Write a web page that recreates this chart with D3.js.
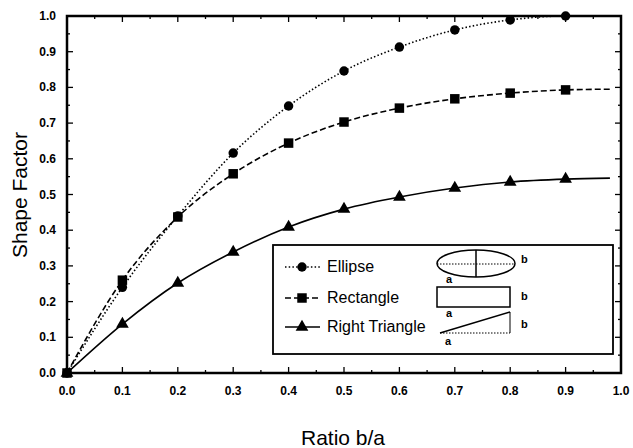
<!DOCTYPE html>
<html>
<head>
<meta charset="utf-8">
<script src="https://cdn.jsdelivr.net/npm/d3@7"></script>
<style>
  body { margin: 0; background: #fff; }
  text { font-family: "Liberation Sans", Arial, sans-serif; }
</style>
</head>
<body>
<svg id="chart" width="633" height="448"></svg>
<script>
// values
var ratios = [0, 0.1, 0.2, 0.3, 0.4, 0.5, 0.6, 0.7, 0.8, 0.9];
var ellipse = [0, 0.24, 0.44, 0.616, 0.748, 0.846, 0.913, 0.961, 0.989, 1.0];
var rectangle = [0, 0.26, 0.437, 0.558, 0.644, 0.703, 0.742, 0.768, 0.784, 0.793];
var triangle = [0, 0.137, 0.252, 0.339, 0.409, 0.459, 0.493, 0.518, 0.535, 0.543];
// curves run a little past the last marker
var tailX = 0.98;
var tails = [1.0, 0.795, 0.546];
var tickLabels = ["0.0", "0.1", "0.2", "0.3", "0.4", "0.5", "0.6", "0.7", "0.8", "0.9", "1.0"];

(function() {

var series = [
  {name: "Ellipse", values: ellipse, dash: "1.5,2.2", symbol: d3.symbolCircle, size: 70},
  {name: "Rectangle", values: rectangle, dash: "6,3", symbol: d3.symbolSquare, size: 90},
  {name: "Right Triangle", values: triangle, dash: null, symbol: d3.symbolTriangle, size: 70}
];

var svg = d3.select("#chart");
var m = {left: 67, right: 621, top: 16, bottom: 373};

var x = d3.scaleLinear().domain([0, 1]).range([m.left, m.right]);
var y = d3.scaleLinear().domain([0, 1]).range([m.bottom, m.top]);

var major = d3.range(0, 1.0001, 0.1);
var minor = d3.range(0.05, 1, 0.1);

// frame
svg.append("rect")
  .attr("x", m.left).attr("y", m.top)
  .attr("width", m.right - m.left).attr("height", m.bottom - m.top)
  .attr("fill", "none").attr("stroke", "#000").attr("stroke-width", 2.5);

// inward ticks on all four sides
function ticks(vals, len) {
  var g = svg.append("g").attr("stroke", "#000").attr("stroke-width", 1.3);
  vals.forEach(function(v) {
    g.append("line").attr("x1", x(v)).attr("x2", x(v)).attr("y1", m.bottom).attr("y2", m.bottom - len);
    g.append("line").attr("x1", x(v)).attr("x2", x(v)).attr("y1", m.top).attr("y2", m.top + len);
    g.append("line").attr("y1", y(v)).attr("y2", y(v)).attr("x1", m.left).attr("x2", m.left + len);
    g.append("line").attr("y1", y(v)).attr("y2", y(v)).attr("x1", m.right).attr("x2", m.right - len);
  });
}
ticks(major, 6);
ticks(minor, 3);

// tick labels
svg.append("g").selectAll("text").data(major).join("text")
  .attr("x", function(d) { return x(d); })
  .attr("y", m.bottom + 22)
  .attr("text-anchor", "middle")
  .attr("font-size", 12).attr("font-weight", "bold")
  .text(function(d, i) { return tickLabels[i]; });

svg.append("g").selectAll("text").data(major).join("text")
  .attr("x", m.left - 11)
  .attr("y", function(d) { return y(d) + 4; })
  .attr("text-anchor", "end")
  .attr("font-size", 12).attr("font-weight", "bold")
  .text(function(d, i) { return tickLabels[i]; });

// axis titles
svg.append("text")
  .attr("x", 343).attr("y", 445)
  .attr("text-anchor", "middle").attr("font-size", 21)
  .text("Ratio b/a");

svg.append("text")
  .attr("transform", "translate(27,195) rotate(-90)")
  .attr("text-anchor", "middle").attr("font-size", 21)
  .text("Shape Factor");

// curves
var line = d3.line()
  .x(function(d) { return x(d[0]); })
  .y(function(d) { return y(d[1]); })
  .curve(d3.curveMonotoneX);

series.forEach(function(s, k) {
  var pts = ratios.map(function(r, i) { return [r, s.values[i]]; });
  pts.push([tailX, tails[k]]);
  svg.append("path")
    .datum(pts)
    .attr("d", line)
    .attr("fill", "none").attr("stroke", "#000").attr("stroke-width", 1.6)
    .attr("stroke-dasharray", s.dash);

  svg.append("g").selectAll("path").data(ratios).join("path")
    .attr("transform", function(r, i) { return "translate(" + x(r) + "," + y(s.values[i]) + ")"; })
    .attr("d", d3.symbol().type(s.symbol).size(s.size))
    .attr("fill", "#000");
});

// legend
var lg = svg.append("g");
lg.append("rect")
  .attr("x", 273).attr("y", 245).attr("width", 340).attr("height", 109)
  .attr("fill", "#fff").attr("stroke", "#000").attr("stroke-width", 1.8);

var rowY = [267, 298, 327];
series.forEach(function(s, k) {
  lg.append("line")
    .attr("x1", 285).attr("x2", 320).attr("y1", rowY[k]).attr("y2", rowY[k])
    .attr("stroke", "#000").attr("stroke-width", 1.6)
    .attr("stroke-dasharray", s.dash);
  lg.append("path")
    .attr("transform", "translate(302," + rowY[k] + ")")
    .attr("d", d3.symbol().type(s.symbol).size(s.size))
    .attr("fill", "#000");
  lg.append("text")
    .attr("x", 327).attr("y", rowY[k] + 5)
    .attr("font-size", 16)
    .text(s.name);
});

// little shape sketches
var sk = lg.append("g").attr("fill", "none").attr("stroke", "#000").attr("stroke-width", 1.5);
sk.append("ellipse").attr("cx", 476).attr("cy", 263.5).attr("rx", 39).attr("ry", 13.5);
sk.append("line").attr("x1", 476).attr("x2", 476).attr("y1", 250).attr("y2", 277);
sk.append("line").attr("x1", 437).attr("x2", 515).attr("y1", 264).attr("y2", 264)
  .attr("stroke-dasharray", "1.5,1.5").attr("stroke-width", 1);
sk.append("rect").attr("x", 437).attr("y", 287).attr("width", 73).attr("height", 20);
sk.append("line").attr("x1", 440).attr("x2", 510).attr("y1", 333).attr("y2", 312);
sk.append("line").attr("x1", 510).attr("x2", 510).attr("y1", 312).attr("y2", 333)
  .attr("stroke-width", 1);
sk.append("line").attr("x1", 440).attr("x2", 510).attr("y1", 333).attr("y2", 333)
  .attr("stroke-dasharray", "1.5,1.5").attr("stroke-width", 1);

var letters = [["b", 521, 263], ["a", 446, 283], ["b", 521, 300], ["a", 446, 317], ["b", 521, 328], ["a", 445, 345]];
lg.selectAll("text.lbl").data(letters).join("text")
  .attr("class", "lbl")
  .attr("x", function(d) { return d[1]; })
  .attr("y", function(d) { return d[2]; })
  .attr("font-size", 11).attr("font-weight", "bold")
  .text(function(d) { return d[0]; });

})();
</script>
</body>
</html>
